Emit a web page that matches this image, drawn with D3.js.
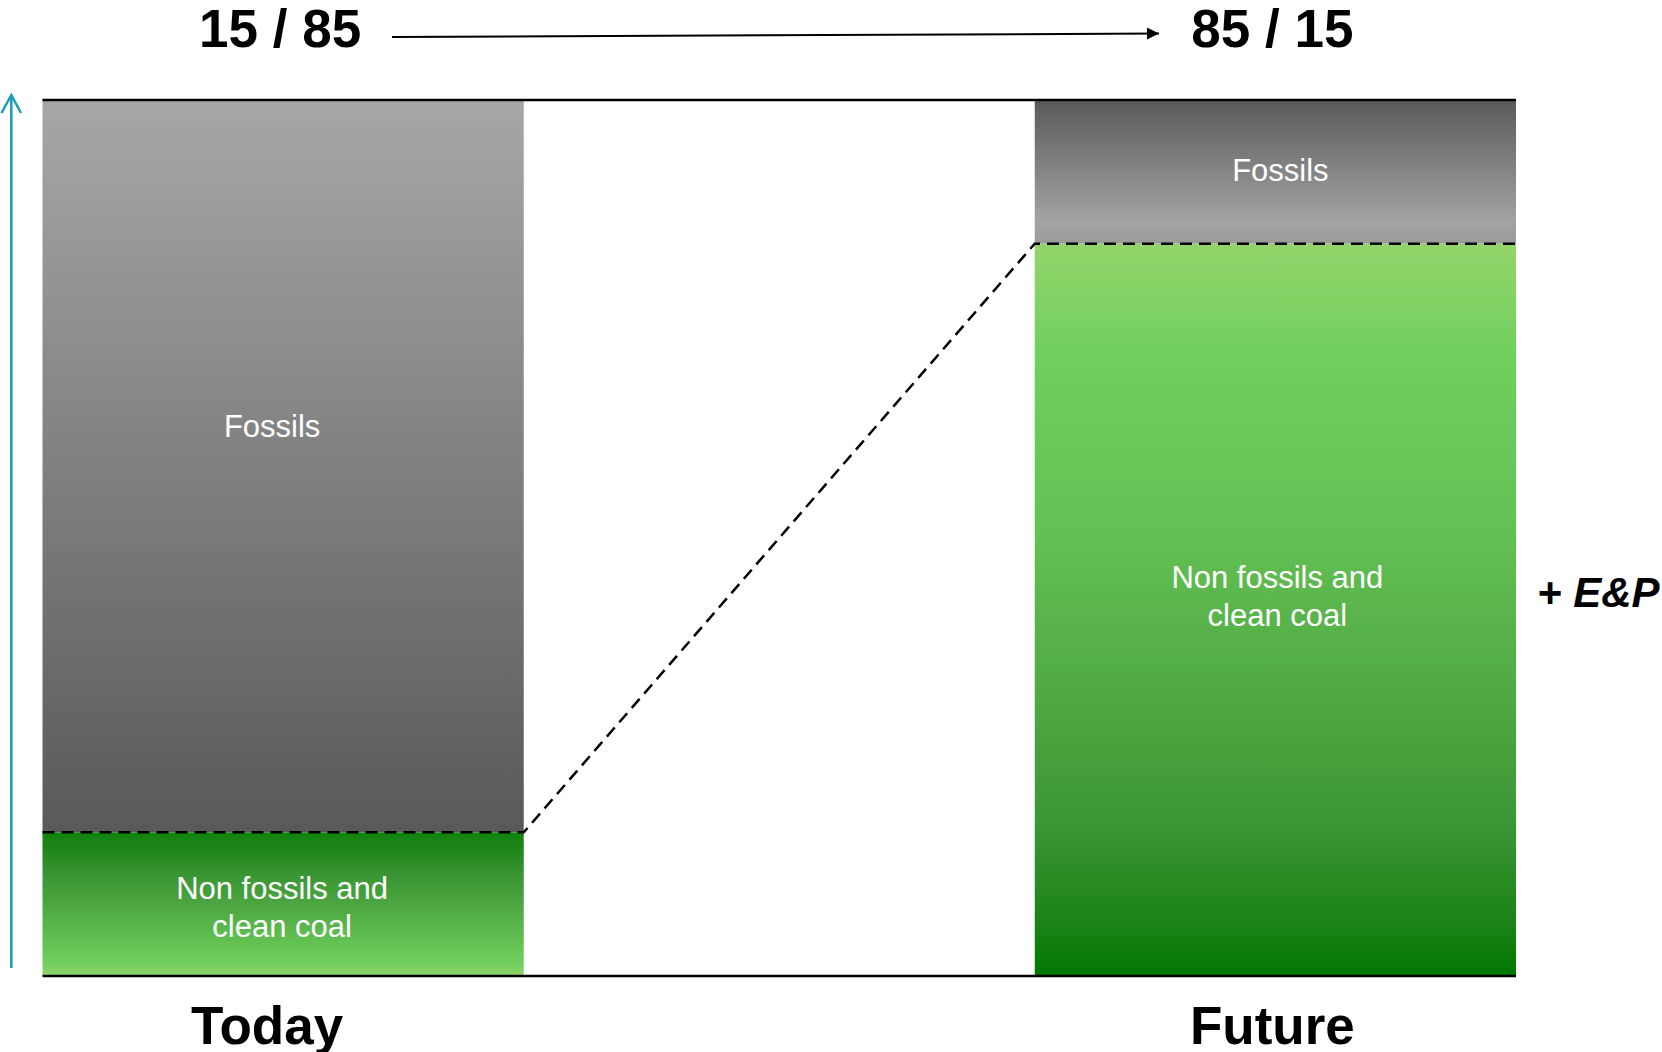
<!DOCTYPE html>
<html>
<head>
<meta charset="utf-8">
<script src="https://cdn.jsdelivr.net/npm/d3@7"></script>
<style>
  html, body { margin: 0; padding: 0; background: #fff; }
  svg { display: block; font-family: "Liberation Sans", Arial, sans-serif; }
</style>
</head>
<body>
<div class="chart"></div>
<script>
// shares of the energy mix (percent)
const periods = ['Today', 'Future'];
const nonFossil = [16.4, 83.6];
const fossil = [83.6, 16.4];
const ratioLabels = ['15 / 85', '85 / 15'];
const fossilLabel = 'Fossils';
const nonFossilLabel = ['Non fossils and', 'clean coal'];
const sideLabel = '+ E&P';

const width = 1662;
const height = 1052;

const svg = d3.select('.chart')
    .append('svg')
    .attr('width', width)
    .attr('height', height);

const defs = svg.append('defs');

// vertical gradients, listed top -> bottom
function gradient(id, stops) {
    const g = defs.append('linearGradient')
        .attr('id', id)
        .attr('x1', 0).attr('y1', 0)
        .attr('x2', 0).attr('y2', 1);
    g.selectAll('stop')
        .data(stops)
        .enter().append('stop')
        .attr('offset', d => d[0])
        .attr('stop-color', d => d[1]);
}
gradient('grayToday', [[0, '#a7a7a7'], [1, '#595959']]);
gradient('greenToday', [[0, '#0f850e'], [0.1, '#1d8419'], [0.3, '#3a9534'], [0.55, '#50ab44'], [0.8, '#66c555'], [0.92, '#72d05e'], [1, '#93d46b']]);
gradient('grayFuture', [[0, '#5a5a5a'], [0.85, '#a3a3a3'], [1, '#9a9a9a']]);
gradient('greenFuture', [[0, '#93d46b'], [0.15, '#70d05d'], [0.4, '#63c053'], [0.6, '#50ab44'], [0.8, '#3a9534'], [0.93, '#1a8216'], [1, '#007800']]);

// scales
const x = d3.scaleBand()
    .domain(periods)
    .range([42.5, 1516])
    .paddingInner(0.515)
    .paddingOuter(0);

const y = d3.scaleLinear()
    .domain([0, 100])
    .range([976, 100]);

const bw = x.bandwidth();

// bars: non fossil at bottom, fossil stacked on top
const rows = periods.map((p, i) => ({
    period: p,
    nonFossil: nonFossil[i],
    fossil: fossil[i],
    gray: i === 0 ? 'url(#grayToday)' : 'url(#grayFuture)',
    green: i === 0 ? 'url(#greenToday)' : 'url(#greenFuture)'
}));

svg.selectAll('.fossil')
    .data(rows)
    .enter().append('rect')
    .attr('class', 'fossil')
    .attr('x', d => x(d.period))
    .attr('y', d => y(d.nonFossil + d.fossil))
    .attr('width', bw)
    .attr('height', d => y(d.nonFossil) - y(d.nonFossil + d.fossil))
    .style('fill', d => d.gray);

svg.selectAll('.nonfossil')
    .data(rows)
    .enter().append('rect')
    .attr('class', 'nonfossil')
    .attr('x', d => x(d.period))
    .attr('y', d => y(d.nonFossil))
    .attr('width', bw)
    .attr('height', d => y(0) - y(d.nonFossil))
    .style('fill', d => d.green);

// dashed boundary line joining the two bars
const boundary = [
    [x(periods[0]), y(nonFossil[0])],
    [x(periods[0]) + bw, y(nonFossil[0])],
    [x(periods[1]), y(nonFossil[1])],
    [x(periods[1]) + bw, y(nonFossil[1])]
];
svg.append('path')
    .attr('d', d3.line()(boundary))
    .style('fill', 'none')
    .style('stroke', '#000')
    .style('stroke-width', 2.5)
    .style('stroke-dasharray', '12,7');

// top and bottom frame lines
[100, 0].forEach(v => {
    svg.append('line')
        .attr('x1', x(periods[0]))
        .attr('x2', x(periods[1]) + bw)
        .attr('y1', y(v))
        .attr('y2', y(v))
        .style('stroke', '#000')
        .style('stroke-width', 2.5);
});

// segment labels
svg.selectAll('.fossil-label')
    .data(rows)
    .enter().append('text')
    .attr('class', 'fossil-label')
    .attr('x', (d, i) => x(d.period) + bw / 2 + (i === 0 ? -11 : 5))
    .attr('y', (d, i) => (y(d.nonFossil) + y(d.nonFossil + d.fossil)) / 2 + (i === 0 ? -40 : -2))
    .attr('dy', '0.35em')
    .attr('text-anchor', 'middle')
    .style('fill', '#fff')
    .style('font-size', '31px')
    .text(fossilLabel);

const nfText = svg.selectAll('.nf-label')
    .data(rows)
    .enter().append('text')
    .attr('class', 'nf-label')
    .attr('text-anchor', 'middle')
    .style('fill', '#fff')
    .style('font-size', '31px');

nfText.selectAll('tspan')
    .data((d, i) => nonFossilLabel.map((t, k) => ({
        t: t, k: k,
        cx: x(d.period) + bw / 2 + (i === 0 ? -1 : 2),
        cy: (y(0) + y(d.nonFossil)) / 2 + (i === 0 ? 3 : -14)
    })))
    .enter().append('tspan')
    .attr('x', d => d.cx)
    .attr('y', d => d.cy + (d.k - 0.5) * 38)
    .attr('dy', '0.35em')
    .text(d => d.t);

// ratio labels and arrow above the bars
svg.selectAll('.ratio')
    .data(ratioLabels)
    .enter().append('text')
    .attr('class', 'ratio')
    .attr('x', (d, i) => x(periods[i]) + bw / 2 - 3)
    .attr('y', 47)
    .attr('text-anchor', 'middle')
    .style('font-weight', 'bold')
    .style('font-size', '53px')
    .text(d => d);

defs.append('marker')
    .attr('id', 'head')
    .attr('viewBox', '0 0 10 10')
    .attr('refX', 10)
    .attr('refY', 5)
    .attr('markerWidth', 16)
    .attr('markerHeight', 12)
    .attr('markerUnits', 'userSpaceOnUse')
    .attr('orient', 'auto')
    .append('path')
    .attr('d', 'M0,0L10,5L0,10Z')
    .style('fill', '#000');

svg.append('line')
    .attr('x1', 392)
    .attr('y1', 37)
    .attr('x2', 1159)
    .attr('y2', 33.5)
    .style('stroke', '#000')
    .style('stroke-width', 2)
    .attr('marker-end', 'url(#head)');

// period labels under the bars
svg.selectAll('.period')
    .data(periods)
    .enter().append('text')
    .attr('class', 'period')
    .attr('x', (d, i) => x(d) + bw / 2 + (i === 0 ? -16 : -3))
    .attr('y', 1044)
    .attr('text-anchor', 'middle')
    .style('font-weight', 'bold')
    .style('font-size', '53px')
    .text(d => d);

// teal vertical arrow on the left
svg.append('path')
    .attr('d', d3.line()([[11.3, 968], [11.3, 95]]))
    .style('stroke', '#1a9db3')
    .style('stroke-width', 2.5)
    .style('fill', 'none');
svg.append('path')
    .attr('d', d3.line()([[1.5, 113], [11.3, 95], [21, 113]]))
    .style('stroke', '#1a9db3')
    .style('stroke-width', 2.5)
    .style('fill', 'none');

// side note
svg.append('text')
    .attr('x', 1537)
    .attr('y', 607)
    .style('font-weight', 'bold')
    .style('font-style', 'italic')
    .style('font-size', '42px')
    .text(sideLabel);
</script>
</body>
</html>
